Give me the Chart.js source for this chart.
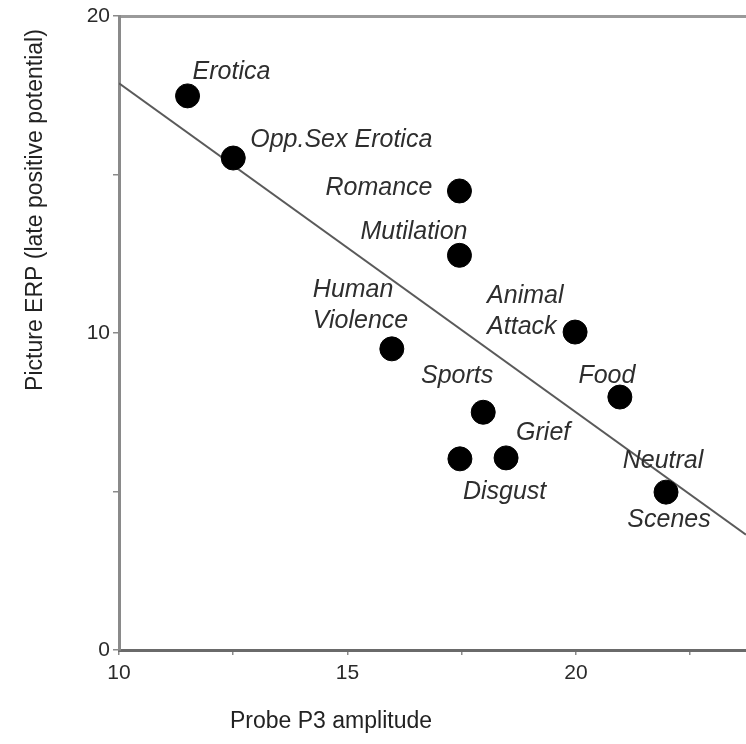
<!DOCTYPE html>
<html>
<head>
<meta charset="utf-8">
<script src="https://cdn.jsdelivr.net/npm/chart.js@4"></script>
<style>
  html, body { margin: 0; padding: 0; background: #fff; overflow: hidden; }
  #wrap { width: 746px; height: 744px; }
  canvas { display: block; filter: blur(0.6px); }
</style>
</head>
<body>
<div id="wrap"><canvas id="erpChart" width="746" height="744"></canvas></div>
<script>
// picture categories, shown next to each dot
const categories = [
    ['Erotica'], ['Opp.Sex Erotica'], ['Romance'], ['Mutilation'],
    ['Human', 'Violence'], ['Animal', 'Attack'], ['Food'], ['Sports'],
    ['Grief'], ['Disgust'], ['Neutral', 'Scenes']
];
const probeP3 = [11.5, 12.5, 17.45, 17.45, 15.97, 19.98, 20.96, 17.97, 18.47, 17.46, 21.97];
const pictureERP = [17.48, 15.52, 14.48, 12.45, 9.5, 10.03, 7.98, 7.5, 6.06, 6.03, 4.98];

// fitted line at both ends
const fitX = [10, 23.72];
const fitY = [17.88, 3.64];

const xTickLabels = [10, 15, 20];
const yTickLabels = [0, 10, 20];

// label placement next to each dot: [dx, dy of first line, align]
const labelPlace = [
    [5, -24, 'left'], [17, -18, 'left'], [-27, -3, 'right'], [8, -23, 'right'],
    [-79, -59, 'left'], [-88, -36, 'left'], [-13, -21, 'center'], [10, -36, 'right'],
    [10, -25, 'left'], [3, 33, 'left'], [-3, -31, 'center']
];

const axisGrey = '#8a8a8a';

const pointLabels = {
    id: 'pointLabels',
    afterDatasetsDraw(chart) {
        const { ctx, scales } = chart;
        ctx.save();
        ctx.font = 'italic 25px "Liberation Sans", Arial, sans-serif';
        ctx.fillStyle = '#2e2e2e';
        ctx.textBaseline = 'middle';
        categories.forEach((lines, i) => {
            const px = scales.x.getPixelForValue(probeP3[i]);
            const py = scales.y.getPixelForValue(pictureERP[i]);
            const [dx, dy, align] = labelPlace[i];
            ctx.textAlign = align;
            lines.forEach((line, j) => {
                // Neutral/Scenes sit above and below the dot
                let yOff = dy + j * 31;
                let xOff = dx;
                if (lines[0] === 'Neutral' && j === 1) { yOff = 28; xOff = 3; }
                ctx.fillText(line, px + xOff, py + yOff);
            });
        });
        ctx.restore();
    }
};

const axisTitles = {
    id: 'axisTitles',
    afterDraw(chart) {
        const { ctx } = chart;
        ctx.save();
        ctx.font = '23px "Liberation Sans", Arial, sans-serif';
        ctx.fillStyle = '#222';
        ctx.textAlign = 'center';
        ctx.textBaseline = 'middle';
        ctx.fillText('Probe P3 amplitude', 331, 722);
        ctx.translate(36, 210);
        ctx.rotate(-Math.PI / 2);
        ctx.fillText('Picture ERP (late positive potential)', 0, 0);
        ctx.restore();
    }
};

const ctx = document.getElementById('erpChart').getContext('2d');

new Chart(ctx, {
    type: 'scatter',
    data: {
        datasets: [
            {
                label: 'Categories',
                data: probeP3.map((x, i) => ({ x: x, y: pictureERP[i] })),
                backgroundColor: '#000',
                borderColor: '#000',
                pointRadius: 12,
                pointHoverRadius: 12
            },
            {
                label: 'Fit',
                type: 'line',
                data: fitX.map((x, i) => ({ x: x, y: fitY[i] })),
                borderColor: '#5a5a5a',
                borderWidth: 2,
                pointRadius: 0,
                fill: false
            }
        ]
    },
    options: {
        responsive: false,
        animation: false,
        layout: { autoPadding: false, padding: { top: 16, left: 0, right: 0, bottom: 0 } },
        plugins: {
            legend: { display: false },
            tooltip: { enabled: false }
        },
        scales: {
            x: {
                type: 'linear',
                min: 10,
                max: 23.72,
                afterFit: scale => { scale.height = 94; },
                border: { display: true, color: '#6a6a6a', width: 3 },
                grid: { display: true, drawOnChartArea: false, tickLength: 5, color: axisGrey, lineWidth: 1.5 },
                ticks: {
                    stepSize: 2.5,
                    includeBounds: false,
                    padding: 6,
                    maxRotation: 0,
                    color: '#2a2a2a',
                    font: { family: '"Liberation Sans", Arial, sans-serif', size: 21 },
                    callback: v => xTickLabels.includes(v) ? String(v) : ''
                }
            },
            xTop: {
                type: 'linear',
                position: 'top',
                afterFit: scale => { scale.height = 0; },
                border: { display: true, color: '#9a9a9a', width: 3 },
                grid: { display: false },
                ticks: { display: false }
            },
            y: {
                type: 'linear',
                min: 0,
                max: 20,
                afterFit: scale => { scale.width = 119; },
                border: { display: true, color: axisGrey, width: 3 },
                grid: { display: true, drawOnChartArea: false, tickLength: 6, color: axisGrey, lineWidth: 1.5 },
                ticks: {
                    stepSize: 5,
                    padding: 3,
                    color: '#2a2a2a',
                    font: { family: '"Liberation Sans", Arial, sans-serif', size: 21 },
                    callback: v => yTickLabels.includes(v) ? String(v) : ''
                }
            }
        }
    },
    plugins: [pointLabels, axisTitles]
});
</script>
</body>
</html>
